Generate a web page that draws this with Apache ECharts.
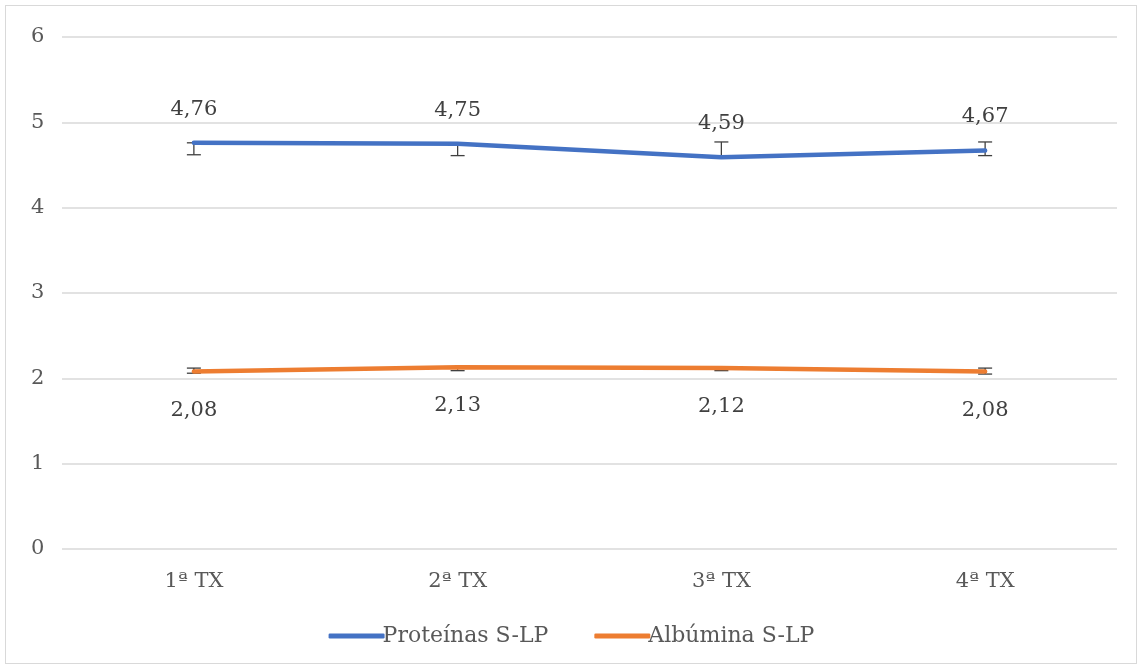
<!DOCTYPE html>
<html><head><meta charset="utf-8">
<script src="https://cdn.jsdelivr.net/npm/echarts@6/dist/echarts.min.js"></script>
<style>html,body{margin:0;padding:0;background:#fff}#c{width:1143px;height:670px}
#frame{position:absolute;left:5px;top:5px;width:1132px;height:659px;border:1px solid #d9d9d9;box-sizing:border-box;pointer-events:none}</style>
</head><body><div id="c"></div><div id="frame"></div>
<script>
const categories = ['1ª TX', '2ª TX', '3ª TX', '4ª TX'];
const proteinas = [4.76, 4.75, 4.59, 4.67];
const proteinasLow = [4.62, 4.61, 4.59, 4.61];
const proteinasHigh = [4.76, 4.75, 4.77, 4.77];
const albumina = [2.08, 2.13, 2.12, 2.08];
const albuminaLow = [2.06, 2.09, 2.09, 2.05];
const albuminaHigh = [2.12, 2.13, 2.12, 2.12];
const yTicks = [0, 1, 2, 3, 4, 5, 6];

const FONT = 'DejaVu Serif';
const fmt = v => String(v.toFixed(2)).replace('.', ',');

function errSeries(low, high) {
  return {
    type: 'custom', z: 1, silent: true,
    data: categories.map((c, i) => [i, low[i], high[i]]),
    renderItem: (params, api) => {
      const lo = api.coord([api.value(0), api.value(1)]);
      const hi = api.coord([api.value(0), api.value(2)]);
      const w = 7;
      const st = { stroke: '#404040', lineWidth: 1.3 };
      return { type: 'group', children: [
        { type: 'line', shape: { x1: lo[0], y1: lo[1], x2: hi[0], y2: hi[1] }, style: st },
        { type: 'line', shape: { x1: lo[0] - w, y1: lo[1], x2: lo[0] + w, y2: lo[1] }, style: st },
        { type: 'line', shape: { x1: hi[0] - w, y1: hi[1], x2: hi[0] + w, y2: hi[1] }, style: st }
      ]};
    }
  };
}

const chart = echarts.init(document.getElementById('c'));
chart.setOption({
  animation: false,
  textStyle: { fontFamily: FONT },
  grid: { left: 62, right: 26, top: 37, bottom: 121 },
  legend: {
    bottom: 18, left: 'center', itemWidth: 56, itemHeight: 5, itemGap: 46,
    data: ['Proteínas S-LP', 'Albúmina S-LP'],
    textStyle: { fontFamily: FONT, fontSize: 22, color: '#595959', padding: [0, 0, 0, -7] },
    icon: 'roundRect'
  },
  xAxis: {
    type: 'category', data: categories, boundaryGap: true,
    axisLine: { show: false }, axisTick: { show: false },
    axisLabel: { fontFamily: FONT, fontSize: 21, color: '#595959', margin: 22 }
  },
  yAxis: {
    type: 'value', min: 0, max: 6, interval: 1,
    axisLabel: { fontFamily: FONT, fontSize: 21, color: '#595959', margin: 31, align: 'left',
      formatter: v => String(v) },
    splitLine: { lineStyle: { color: '#d9d9d9', width: 1.5 } },
    axisLine: { show: false }, axisTick: { show: false }
  },
  series: [
    errSeries(proteinasLow, proteinasHigh),
    errSeries(albuminaLow, albuminaHigh),
    {
      name: 'Proteínas S-LP', type: 'line', data: proteinas, z: 3,
      symbol: 'circle', symbolSize: 0.1, showSymbol: true,
      lineStyle: { color: '#4472C4', width: 4.5, cap: 'round' },
      itemStyle: { color: '#4472C4' },
      label: { show: true, position: 'top', distance: 23, fontFamily: FONT, fontSize: 21, color: '#404040', formatter: p => fmt(p.value) },
      labelLayout: { hideOverlap: false }
    },
    {
      name: 'Albúmina S-LP', type: 'line', data: albumina, z: 3,
      symbol: 'circle', symbolSize: 0.1, showSymbol: true,
      lineStyle: { color: '#ED7D31', width: 4.5, cap: 'round' },
      itemStyle: { color: '#ED7D31' },
      label: { show: true, position: 'bottom', distance: 28, fontFamily: FONT, fontSize: 21, color: '#404040', formatter: p => fmt(p.value) }
    }
  ]
});
</script></body></html>
